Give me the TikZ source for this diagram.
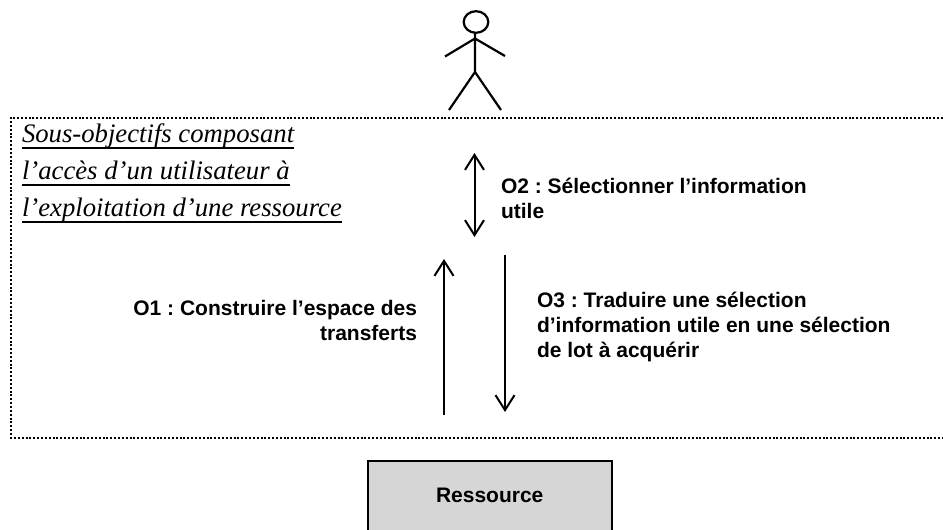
\documentclass[tikz,border=0pt]{standalone}
\usepackage{fontspec}
\setmainfont{Liberation Serif}
\setsansfont{Liberation Sans}
\usetikzlibrary{arrows.meta}
\definecolor{boxgray}{HTML}{D6D6D6}
\newcommand{\ultitle}[1]{\setbox0\hbox{#1}\rlap{\rule[-6.5pt]{\wd0}{1.6pt}}\box0}

\begin{document}
\begin{tikzpicture}[x=1pt,y=-1pt,
            every node/.style = {draw      = none,
                                inner sep = 0pt,
                                outer sep = 0pt},
            objlabel/.style   = {font = \sffamily\bfseries\fontsize{21}{25}\selectfont\frenchspacing},
            titleline/.style  = {anchor = base west,
                                font = \itshape\fontsize{26.7}{26}\selectfont},
            flow/.style       = {line width = 2pt,
                                -{Straight Barb[length=15pt,width=19pt,line width=2pt]}},
            limit/.style      = {line width = 2pt,
                                dash pattern = on 2pt off 1.85pt},
            body/.style       = {line width = 2.2pt}
            ]
            \useasboundingbox (0,0) rectangle (943,530);

            \path (11,117.5)   coordinate (topleft)
                  (943,117.5)  coordinate (topright)
                  (11,437.5)   coordinate (bottomleft)
                  (943,437.5)  coordinate (bottomright);
            \draw [limit] (topright) -- (topleft) -- (bottomleft) -- (bottomright);

            % actor
            \path (476,22)   coordinate (head)
                  (475,33)   coordinate (neck)
                  (475,38.5) coordinate (shoulder)
                  (445,56.5) coordinate (lefthand)
                  (505,56)   coordinate (righthand)
                  (475,72)   coordinate (hip)
                  (449,110)  coordinate (leftfoot)
                  (501,110)  coordinate (rightfoot);
            \draw [body] (head) ellipse (12.3 and 10.8);
            \draw [body] (neck) -- (hip)
                         (lefthand) -- (shoulder) -- (righthand)
                         (leftfoot) -- (hip) -- (rightfoot);

            \node [titleline] (title1) at (22,142)    {\ultitle{Sous-objectifs composant}};
            \node [titleline] (title2) at (22,179)    {\ultitle{l’accès d’un utilisateur à}};
            \node [titleline] (title3) at (22,216.5)  {\ultitle{l’exploitation d’une ressource}};

            % arrows
            \path (474.5,153)  coordinate (o2top)
                  (474.5,237)  coordinate (o2bottom)
                  (444,415)    coordinate (o1start)
                  (444,259)    coordinate (o1end)
                  (505,255)    coordinate (o3start)
                  (505,412)    coordinate (o3end);
            \draw [flow, {Straight Barb[length=15pt,width=19pt,line width=2pt]}-{Straight Barb[length=15pt,width=19pt,line width=2pt]}] (o2top) -- (o2bottom);
            \draw [flow] (o1start) -- (o1end);
            \draw [flow] (o3start) -- (o3end);

            \node [objlabel, anchor = north west, align = left] (o2) at (501,178)
                  {O2 : Sélectionner l’information\\utile};
            \node [objlabel, anchor = north east, align = right] (o1) at (417,300)
                  {O1 : Construire l’espace des\\transferts};
            \node [objlabel, anchor = north west, align = left] (o3) at (537,292)
                  {O3 : Traduire une sélection\\d’information utile en une sélection\\de lot à acquérir};

            \begin{scope}
            \clip (0,0) rectangle (943,530);
            \node [draw, line width = 2pt, fill = boxgray, minimum width = 244pt, minimum height = 76pt,
                   objlabel, text depth = 6pt] (ressource) at (489.7,498.7) {Ressource};
            \end{scope}
\end{tikzpicture}
\end{document}
